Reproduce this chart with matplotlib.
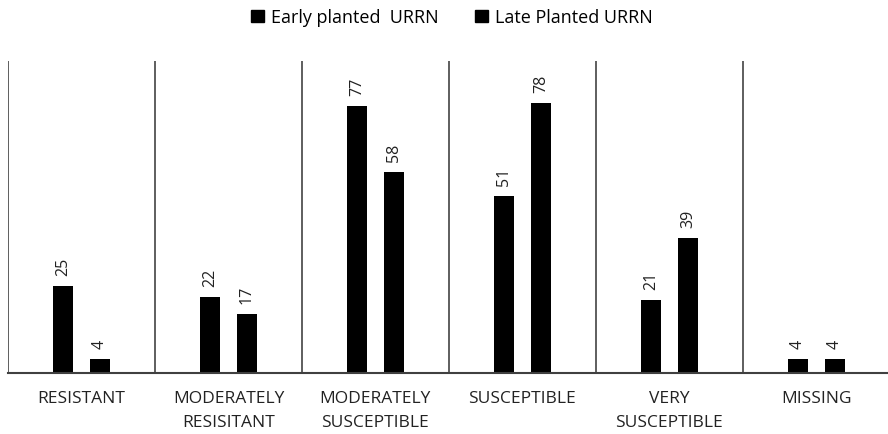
import numpy as np
import matplotlib
matplotlib.use("Agg")
import matplotlib.pyplot as plt
from matplotlib.patches import Patch

# data
categories = ["RESISTANT", "MODERATELY\nRESISITANT", "MODERATELY\nSUSCEPTIBLE",
              "SUSCEPTIBLE", "VERY\nSUSCEPTIBLE", "MISSING"]
early = [25, 22, 77, 51, 21, 4]
late = [4, 17, 58, 78, 39, 4]
series_names = ["Early planted  URRN", "Late Planted URRN"]

plt.rcParams['font.family'] = ['Open Sans', 'DejaVu Sans']

fig = plt.figure(figsize=(8.88, 4.35), dpi=100)
ax = fig.add_axes([0.009, 0.140, 0.993, 0.717])

x = np.arange(len(categories))
w = 0.136
off = 0.126
b1 = ax.bar(x - off, early, w, color='black')
b2 = ax.bar(x + off, late, w, color='black')

for bars in (b1, b2):
    for r in bars:
        ax.annotate(str(int(r.get_height())), (r.get_x() + r.get_width() / 2, r.get_height()),
                    xytext=(0, 8), textcoords='offset points', rotation=90,
                    ha='center', va='bottom', fontsize=11.5, color='#222222')

# separators between categories
for b in np.arange(-0.5, len(categories), 1.0):
    ax.axvline(b, color='#333333', lw=1.1)

ax.set_xlim(-0.5, len(categories) - 0.5)
ax.set_ylim(0, 90)
ax.set_yticks([])
ax.set_xticks(x)
ax.set_xticklabels(categories, fontsize=12.5, color='#222222', linespacing=1.65)
ax.tick_params(axis='x', length=0, pad=12)
for s in ['top', 'right', 'left']:
    ax.spines[s].set_visible(False)
ax.spines['bottom'].set_color('#404040')
ax.spines['bottom'].set_linewidth(1.5)

handles = [Patch(color='black'), Patch(color='black')]
fig.legend(handles, series_names, loc='center', bbox_to_anchor=(0.509, 0.958), ncol=2,
           frameon=False, fontsize=13, handlelength=0.7, handleheight=0.7,
           columnspacing=2.0, handletextpad=0.4)

fig.savefig("out.png", dpi=100)
